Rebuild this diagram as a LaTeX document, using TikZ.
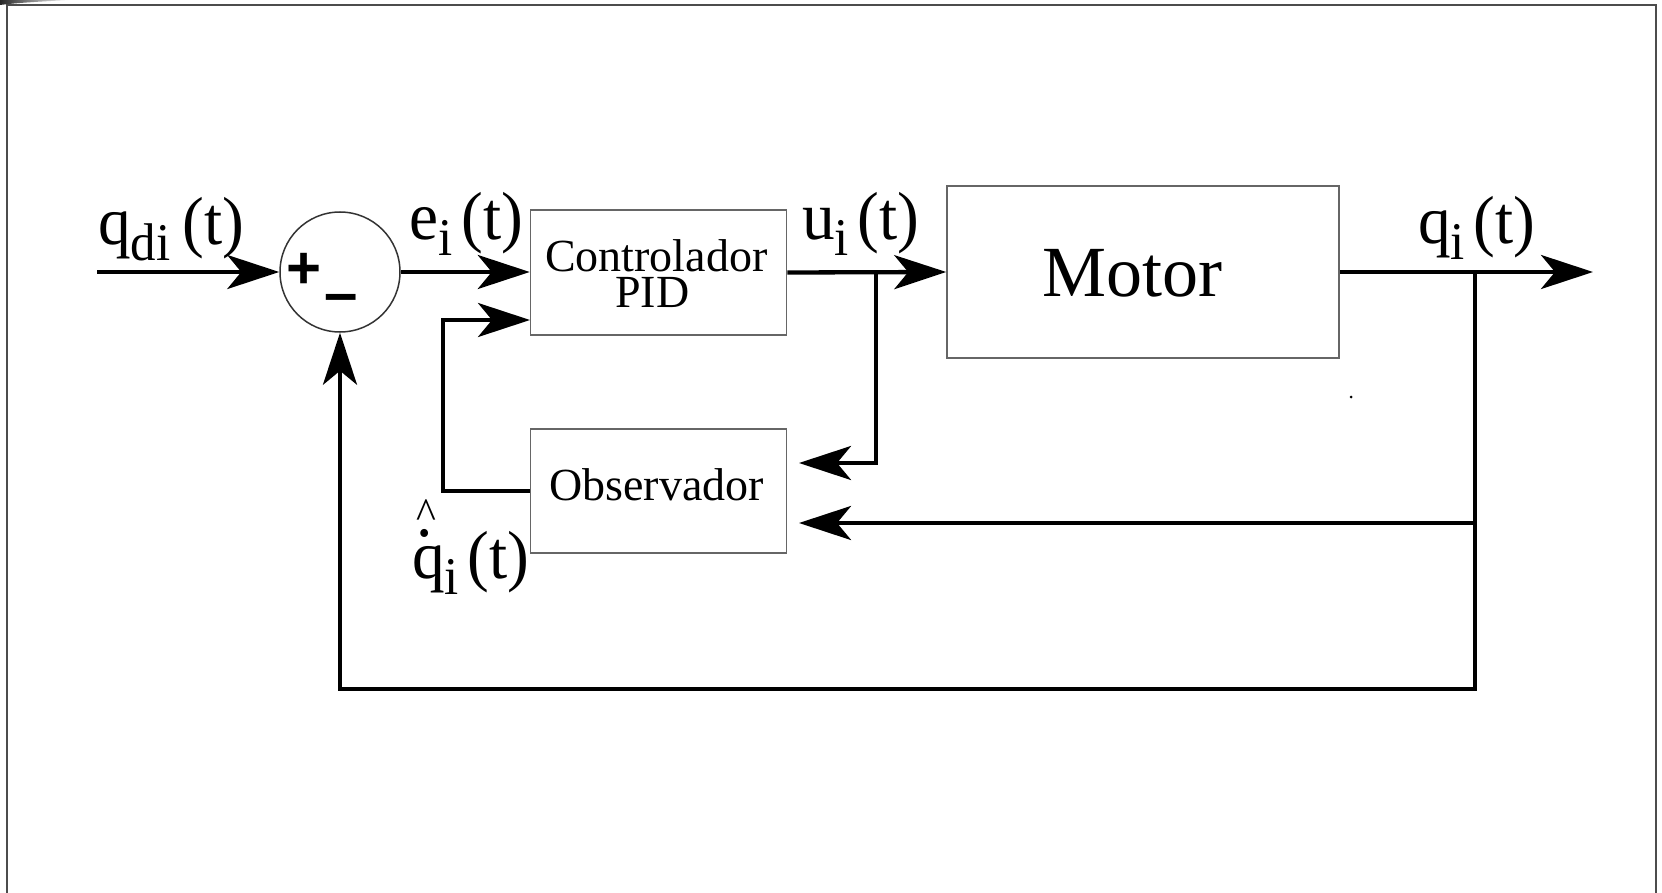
\documentclass[tikz,border=0pt]{standalone}
\usepackage{fontspec}
\setmainfont{Liberation Serif}
\setsansfont{Liberation Sans}
\newfontfamily\lblfont[FakeStretch=0.96]{Liberation Serif}
\usetikzlibrary{arrows.meta}
\newcommand{\fsz}[1]{\fontsize{#1}{#1}\selectfont}
\newcommand{\lsub}[1]{\raisebox{-16pt}{\fsz{53}#1}}
\begin{document}
\begin{tikzpicture}[x=1pt,y=-1pt,
  lbl/.style={anchor=base west, inner sep=0pt, font=\lblfont\fsz{68}},
  txt/.style={anchor=base west, inner sep=0pt},
  blk/.style={draw=black!60, line width=1.5pt, inner sep=0pt},
  arr/.style={line width=4.3pt, -{Stealth[length=52pt,width=34pt,inset=14pt]}},
  wire/.style={line width=4.3pt}]
\useasboundingbox (0,0) rectangle (1662,893);
\fill[white] (0,0) rectangle (1662,893);
% frame
\draw[black!70, line width=2pt] (7,893) -- (7,5) -- (1656,5) -- (1656,893);
\shade[left color=black!85, right color=white] (0,0) -- (70,0) .. controls (40,1.5) and (15,3) .. (0,5) -- cycle;

% blocks
\node[blk, minimum width=256pt, minimum height=125pt] (ctrl) at (658.5,272.5) {};
\node[blk, minimum width=256pt, minimum height=124pt] (obs) at (658.5,491) {};
\node[blk, minimum width=392pt, minimum height=172pt] (motor) at (1143,272) {};
\node[draw=black!80, line width=1.5pt, circle, minimum size=120pt, inner sep=0pt] (sum) at (340,272) {};

% block texts
\node[txt, font=\fsz{46}] (tctrl) at (545,272) {Controlador};
\node[txt, font=\fsz{46}] (tpid) at (615,308) {PID};
\node[txt, font=\fsz{46}] (tobs) at (549,500) {Observador};
\node[txt, font=\fsz{72}] (tmotor) at (1042,297) {Motor};

% sum signs
\node[anchor=base, inner sep=0pt, font=\fsz{60}\sffamily\bfseries] (plus) at (304.5,289) {+};
\node[anchor=base, inner sep=0pt, font=\fsz{60}\sffamily\bfseries] (minus) at (341,313.5) {\textendash};

% signal labels
\node[lbl] (lqd) at (98,245) {q\lsub{di}\kern12pt(t)};
\node[lbl] (le) at (409,240) {e\lsub{i}\kern9pt(t)};
\node[lbl] (lu) at (802,240) {u\lsub{i}\kern9pt(t)};
\node[lbl] (lq) at (1418,244) {q\lsub{i}\kern9pt(t)};
\node[lbl] (lqh) at (412,578) {\rlap{\kern4.5pt\raisebox{42pt}{.}}\rlap{\kern4.5pt\raisebox{50pt}{\fsz{44}\textasciicircum}}q\lsub{i}\kern9pt(t)};

% coordinates
\coordinate (in) at (97,272);
\coordinate (ub) at (876,272);
\coordinate (qb) at (1475,272);
\coordinate (out) at (1593,272);
\coordinate (oin1) at (799,463);
\coordinate (oin2) at (799,523);
\coordinate (cin2) at (530,320);
\coordinate (fbx) at (443,489);
\coordinate (bot) at (1475,689);

% connectors
\draw[arr] (in) -- (sum.west);
\draw[arr] (sum.east) -- (sum.east -| ctrl.west);
\draw[arr] (ctrl.east) -- (motor.west);
\draw[arr] (motor.east) -- (out);
\draw[arr] (ub) |- (oin1);
\draw[arr] (qb) |- (oin2);
\draw[arr] (qb) -- (bot) -| (sum.south);
\draw[arr] (obs.west) -| (fbx |- cin2) -- (cin2);

% stray dot
\fill (1351,397) circle (1.5pt);
\end{tikzpicture}
\end{document}
